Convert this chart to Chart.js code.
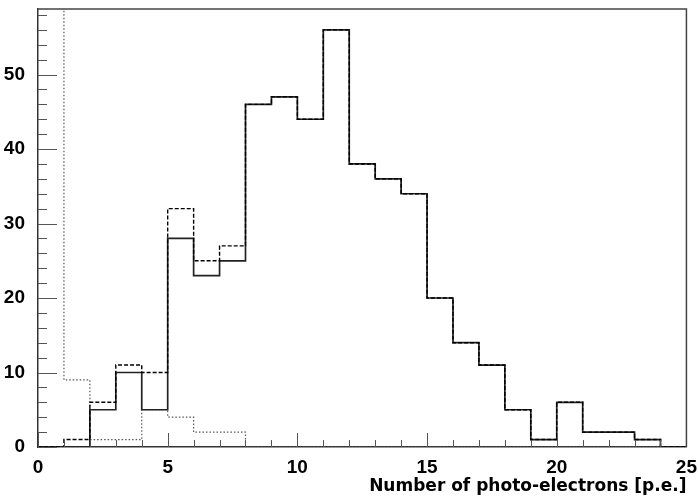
<!DOCTYPE html>
<html>
<head>
<meta charset="utf-8">
<script src="https://cdn.jsdelivr.net/npm/chart.js@4.4.1/dist/chart.umd.min.js"></script>
<style>
  html, body { margin: 0; padding: 0; background: #fff; }
  #wrap { width: 698px; height: 498px; }
</style>
</head>
<body>
<div id="wrap"><canvas id="peChart" width="698" height="498"></canvas></div>
<script>
// bin edges 0..25, one value per bin [i, i+1)
var binLow = [0, 1, 2, 3, 4, 5, 6, 7, 8, 9, 10, 11, 12, 13, 14, 15, 16, 17, 18, 19, 20, 21, 22, 23, 24];
var solidCounts  = [0, 0, 5, 10, 5, 28, 23, 25, 46, 47, 44, 56, 38, 36, 34, 20, 14, 11, 5, 1, 6, 2, 2, 1, 0];
var dashedCounts = [0, 1, 6, 11, 10, 32, 25, 27, 46, 47, 44, 56, 38, 36, 34, 20, 14, 11, 5, 1, 6, 2, 2, 1, 0];
var dottedCounts = [150, 9, 1, 1, 5, 4, 2, 2, 0, 0, 0, 0, 0, 0, 0, 0, 0, 0, 0, 0, 0, 0, 0, 0, 0];
var xTicks = [0, 5, 10, 15, 20, 25];
var yTicks = [0, 10, 20, 30, 40, 50];
var xMax = 25, yMax = 58.8;

// histogram outline: each bin gives two points (low edge, high edge)
function steps(counts) {
    var pts = [];
    for (var i = 0; i < binLow.length; i++) {
        pts.push({x: binLow[i], y: counts[i]});
        pts.push({x: binLow[i] + 1, y: counts[i]});
    }
    return pts;
}

function range(step, max) {
    var out = [];
    for (var v = 0; v <= max + 1e-9; v += step) out.push({value: v});
    return out;
}

// top/right frame and inward tick marks, ROOT style
var framePlugin = {
    id: 'frame',
    afterDraw: function(chart) {
        var c = chart.ctx, a = chart.chartArea;
        var xs = chart.scales.x, ys = chart.scales.y;
        c.save();
        c.strokeStyle = '#555';
        c.lineWidth = 1;
        xs.ticks.forEach(function(t) {
            var px = Math.round(xs.getPixelForValue(t.value)) + 0.5;
            var len = xTicks.indexOf(t.value) >= 0 ? 14 : 7;
            c.beginPath(); c.moveTo(px, a.bottom); c.lineTo(px, a.bottom - len); c.stroke();
        });
        ys.ticks.forEach(function(t) {
            var py = Math.round(ys.getPixelForValue(t.value)) + 0.5;
            var len = yTicks.indexOf(t.value) >= 0 ? 19 : 9;
            c.beginPath(); c.moveTo(a.left, py); c.lineTo(a.left + len, py); c.stroke();
        });
        c.strokeStyle = '#444';
        c.lineWidth = 1.5;
        c.beginPath();
        c.moveTo(a.left, a.top);
        c.lineTo(a.right, a.top);
        c.lineTo(a.right, a.bottom);
        c.stroke();
        c.restore();
    }
};

var tickFont = {family: "'Liberation Sans', Arial, sans-serif", weight: 'bold', size: 19};

document.addEventListener('DOMContentLoaded', function() {
    var ctx = document.getElementById('peChart').getContext('2d');
    new Chart(ctx, {
        type: 'line',
        data: {
            datasets: [
                {
                    label: 'dashed',
                    data: steps(dashedCounts),
                    borderColor: '#000',
                    borderWidth: 1.4,
                    borderDash: [4, 2],
                    order: 1
                },
                {
                    label: 'solid',
                    data: steps(solidCounts),
                    borderColor: '#222',
                    borderWidth: 1.7,
                    order: 2
                },
                {
                    label: 'dotted',
                    data: steps(dottedCounts),
                    borderColor: '#555',
                    borderWidth: 1.2,
                    borderDash: [1.5, 2],
                    order: 3
                }
            ]
        },
        options: {
            responsive: false,
            animation: false,
            events: [],
            elements: {
                point: { radius: 0 },
                line: { tension: 0, fill: false, borderJoinStyle: 'miter' }
            },
            layout: { padding: { top: 9, right: 8, left: 0, bottom: 0 } },
            scales: {
                x: {
                    type: 'linear',
                    min: 0,
                    max: xMax,
                    afterBuildTicks: function(s) { s.ticks = range(1, xMax); },
                    afterFit: function(s) { s.height = 51; },
                    grid: { display: false },
                    border: { display: true, color: '#333', width: 1.5 },
                    ticks: {
                        autoSkip: false,
                        maxRotation: 0,
                        padding: 1,
                        color: '#000',
                        font: tickFont,
                        callback: function(v) { return xTicks.indexOf(v) >= 0 ? String(v) : ''; }
                    },
                    title: {
                        display: true,
                        text: 'Number of photo-electrons [p.e.]',
                        align: 'end',
                        color: '#000',
                        font: {family: "'DejaVu Sans', sans-serif", weight: 'bold', size: 17},
                        padding: { top: 0, bottom: 1 }
                    }
                },
                y: {
                    min: 0,
                    max: yMax,
                    afterBuildTicks: function(s) { s.ticks = range(2, yMax); },
                    afterFit: function(s) { s.width = 38; s.paddingTop = 0; },
                    grid: { display: false },
                    border: { display: true, color: '#333', width: 1.5 },
                    ticks: {
                        autoSkip: false,
                        padding: 5,
                        color: '#000',
                        font: tickFont,
                        callback: function(v) { return yTicks.indexOf(v) >= 0 ? String(v) : ''; }
                    }
                }
            },
            plugins: {
                legend: { display: false },
                tooltip: { enabled: false }
            }
        },
        plugins: [framePlugin]
    });
});
</script>
</body>
</html>
